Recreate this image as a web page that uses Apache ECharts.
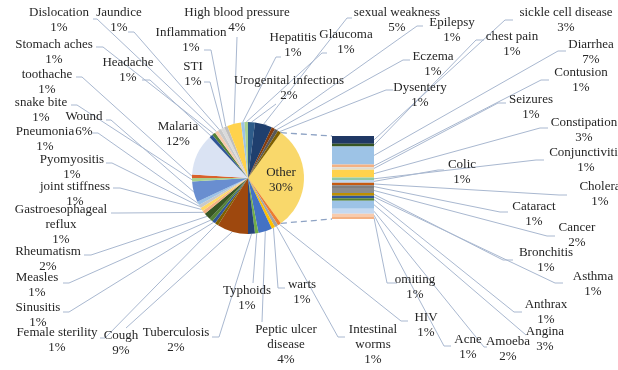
<!DOCTYPE html>
<html>
<head>
<meta charset="utf-8">
<script src="https://cdn.jsdelivr.net/npm/echarts@6/dist/echarts.min.js"></script>
<style>
  html, body { margin: 0; padding: 0; background: #ffffff; }
  #chart { width: 618px; height: 370px; }
</style>
</head>
<body>
<div id="chart"></div>
<script>
// ---- data ---------------------------------------------------------------
// Pie slices, clockwise from the lower edge of the "Other" wedge (percent)
const pieNames = ['HIV', 'Intestinal\nworms', 'warts', 'Peptic ulcer\ndisease', 'Typhoids',
  'Tuberculosis', 'Cough', 'Female sterility', 'Sinusitis', 'Measles', 'Rheumatism',
  'Gastroesophageal\nreflux', 'joint stiffness', 'Pyomyositis', 'Pneumonia', 'Wound',
  'snake bite', 'toothache', 'Malaria', 'Headache', 'Stomach aches', 'Dislocation',
  'Jaundice', 'STI', 'Inflammation', 'High blood pressure', 'Hepatitis', 'Glaucoma',
  'Urogenital infections', 'sexual weakness', 'Epilepsy', 'Eczema', 'Dysentery'];
const pieValues = [1, 1, 1, 4, 1, 2, 9, 1, 1, 1, 2, 1, 1, 1, 1, 6, 1, 1, 12, 1, 1, 1,
  1, 1, 1, 4, 1, 1, 2, 5, 1, 1, 1];
const otherName = 'Other';
const otherValue = 30;

// Break-out bar for the "Other" wedge, listed top to bottom (percent)
const barNames = ['sickle cell disease', 'chest pain', 'Diarrhea', 'Contusion', 'Seizures',
  'Constipation', 'Conjunctivitis', 'Colic', 'Cholera', 'Cataract', 'Cancer', 'Bronchitis',
  'Asthma', 'Anthrax', 'Angina', 'Amoeba', 'Acne', 'omiting'];
const barValues = [3, 1, 7, 1, 1, 3, 1, 1, 1, 1, 2, 1, 1, 1, 3, 2, 1, 1];

// ---- styling ------------------------------------------------------------
const pieColors = ['#ED7D31', '#A5A5A5', '#FFC000', '#4472C4', '#70AD47', '#264478',
  '#9E480E', '#7F6000', '#2F5597', '#548235', '#375623', '#F4B183', '#FFD966', '#C9C9C9',
  '#9DC3E6', '#698ED0', '#A9D18E', '#D9622B', '#DAE3F3', '#2F5597', '#548235', '#F8CBAD',
  '#C9C9C9', '#DBDBDB', '#BFBFBF', '#FFD24C', '#9DC3E6', '#A9D18E', '#2E5C8A', '#1F3F6E',
  '#843C0C', '#595959', '#7F6000'];
const otherColor = '#F9D86B';
const barColors = ['#203864', '#375623', '#9DC3E6', '#F4B183', '#E2DCCF', '#FFD24C',
  '#8FC9A8', '#BDD7EE', '#C55A11', '#7F7F7F', '#8C8C8C', '#BF9000', '#2F5597', '#548235',
  '#9DC3E6', '#C5D9F1', '#F8CBAD', '#F4B183'];

const FONT = 'Liberation Serif';
const TEXT_COLOR = '#262626';
const LEADER = '#A9B8D0';
const LINE_H = 15;

const PIE_CX = 248, PIE_CY = 178, PIE_R = 56;
const BAR_LEFT = 332, BAR_TOP = 136, BAR_W = 42, BAR_H = 83;

// label placement: [text centre x, first line centre y, leader end x, leader end y, stub]
const pieLabelAt = [
  [426, 318, 408, 321, 7], [373, 330, 345, 337, 7], [302, 285, 285, 288, 7],
  [286, 330, 262, 322, 0], [247, 291, 253, 283, 0], [176, 333, 212, 337, 7],
  [121, 336, 126, 328, 0], [57, 333, 100, 338, 5], [38, 308, 63, 312, 6],
  [37, 278, 63, 283, 6], [48, 252, 84, 255, 7], [61, 210, 111, 213, 8],
  [75, 187, 113, 188, 7], [72, 160, 106, 163, 6], [45, 132, 92, 133, 6],
  [84, 117, 106, 120, 5], [41, 103, 71, 105, 6], [47, 75, 76, 77, 6],
  [178, 127, null, null, 0], [128, 63, 142, 80, 8], [54, 45, 96, 47, 7],
  [59, 13, 93, 19, 4], [119, 13, 128, 32, 6], [193, 67, 204, 82, 6],
  [191, 33, 204, 50, 7], [237, 13, 237, 37, 0], [293, 38, 281, 57, 5],
  [346, 35, 327, 53, 5], [289, 81, 276, 104, 0], [397, 13, 352, 18, 5],
  [452, 23, 423, 26, 6], [433, 57, 410, 60, 7], [420, 88, 393, 90, 7]
];
const otherLabelAt = [281, 173];
const barLabelAt = [
  [566, 13, 513, 20, 8], [512, 37, 484, 40, 8], [591, 45, 566, 51, 8],
  [581, 73, 549, 80, 8], [531, 100, 506, 103, 8], [584, 123, 548, 128, 8],
  [586, 153, 544, 160, 8], [462, 165, 444, 170, 6], [600, 187, 567, 195, 8],
  [534, 207, 508, 212, 8], [577, 228, 555, 236, 8], [546, 253, 513, 260, 10],
  [593, 277, 563, 283, 8], [546, 305, 522, 312, 8], [545, 332, 526, 335, 0],
  [508, 342, 487, 347, 3], [468, 340, 451, 346, 7], [415, 280, 397, 283, 10]
];

// ---- chart --------------------------------------------------------------
const chart = echarts.init(document.getElementById('chart'), null, { renderer: 'canvas' });

const pieTotal = otherValue + pieValues.reduce((a, b) => a + b, 0);
const otherHalfAngle = otherValue / pieTotal * 180;
const barTotal = barValues.reduce((a, b) => a + b, 0);

const textStyle = {
  fontFamily: FONT, fontSize: 13, color: TEXT_COLOR, lineHeight: LINE_H, align: 'center'
};

const pieData = [{
  name: otherName, value: otherValue,
  itemStyle: { color: otherColor },
  label: { position: 'inside' }, labelLine: { show: false }
}].concat(pieNames.map((n, i) => ({
  name: n, value: pieValues[i],
  itemStyle: { color: pieColors[i] },
  labelLine: { show: pieLabelAt[i][2] != null }
})));

const series = [{
  type: 'pie',
  center: [PIE_CX, PIE_CY],
  radius: PIE_R,
  startAngle: otherHalfAngle,
  clockwise: true,
  avoidLabelOverlap: false,
  animation: false,
  data: pieData,
  itemStyle: { borderWidth: 0 },
  label: Object.assign({ show: true, position: 'outside', formatter: '{b}\n{c}%' }, textStyle),
  labelLine: { show: true, length: 10, length2: 10, lineStyle: { color: LEADER, width: 1 } },
  emphasis: { disabled: true },
  labelLayout: function (params) {
    const i = params.dataIndex;
    if (i === 0) {
      return { x: otherLabelAt[0], y: otherLabelAt[1] - LINE_H / 2, align: 'center', verticalAlign: 'top' };
    }
    const p = pieLabelAt[i - 1];
    const out = { x: p[0], y: p[1] - LINE_H / 2, align: 'center', verticalAlign: 'top' };
    const pts = params.labelLinePoints;
    if (p[2] != null && pts) {
      const start = pts[0];
      const dir = start[0] < p[2] ? -1 : 1;
      out.labelLinePoints = [start, [p[2] + dir * p[4], p[3]], [p[2], p[3]]];
    }
    return out;
  }
}];

barNames.forEach((n, i) => {
  const p = barLabelAt[i];
  series.push({
    type: 'bar',
    name: n,
    stack: 'other',
    barWidth: '100%',
    xAxisIndex: 0, yAxisIndex: 0,
    animation: false,
    data: [barValues[i]],
    itemStyle: { color: barColors[i] },
    emphasis: { disabled: true },
    label: Object.assign({ show: true, position: 'right', formatter: n + '\n' + barValues[i] + '%' }, textStyle),
    labelLayout: { x: p[0], y: p[1] - LINE_H / 2, align: 'center', verticalAlign: 'top' }
  });
});

chart.setOption({
  backgroundColor: '#ffffff',
  animation: false,
  grid: { left: BAR_LEFT, top: BAR_TOP, width: BAR_W, height: BAR_H },
  xAxis: { type: 'category', data: [otherName], show: false },
  yAxis: { type: 'value', min: 0, max: barTotal, inverse: true, show: false },
  series: series
});

// leader lines from the bar segments and the dashed connectors to the pie
const graphics = [];
let cum = 0;
barValues.forEach((v, i) => {
  const y0 = chart.convertToPixel({ yAxisIndex: 0 }, cum);
  const y1 = chart.convertToPixel({ yAxisIndex: 0 }, cum + v);
  cum += v;
  const start = [BAR_LEFT + BAR_W, (y0 + y1) / 2];
  const p = barLabelAt[i];
  graphics.push({
    type: 'polyline', silent: true, z: 1,
    shape: { points: [start, [p[2] - p[4], p[3]], [p[2], p[3]]] },
    style: { stroke: LEADER, lineWidth: 1, fill: null }
  });
});

const a = otherHalfAngle * Math.PI / 180;
const barTopY = chart.convertToPixel({ yAxisIndex: 0 }, 0);
const barBotY = chart.convertToPixel({ yAxisIndex: 0 }, barTotal);
[[a, barTopY], [-a, barBotY]].forEach(([ang, by]) => {
  graphics.push({
    type: 'line', silent: true, z: 1,
    shape: {
      x1: PIE_CX + PIE_R * Math.cos(ang), y1: PIE_CY - PIE_R * Math.sin(ang),
      x2: BAR_LEFT, y2: by
    },
    style: { stroke: '#8EA3C4', lineWidth: 1.3, lineDash: [6, 4] }
  });
});

chart.setOption({ graphic: graphics });
</script>
</body>
</html>
